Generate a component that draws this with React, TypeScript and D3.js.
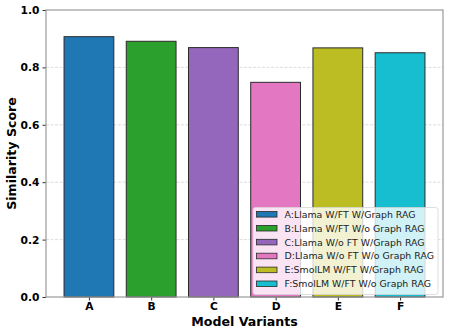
import React, { useEffect, useRef } from 'react';
import * as d3 from 'd3';

const categories = ['A', 'B', 'C', 'D', 'E', 'F'];
const scores = [0.907, 0.891, 0.869, 0.748, 0.868, 0.851];
const legendLabels = [
  'A:Llama W/FT W/Graph RAG',
  'B:Llama W/FT W/o Graph RAG',
  'C:Llama W/o FT W/Graph RAG',
  'D:Llama W/o FT W/o Graph RAG',
  'E:SmolLM W/FT W/Graph RAG',
  'F:SmolLM W/FT W/o Graph RAG',
];
const colors = ['#1f77b4', '#2ca02c', '#9467bd', '#e377c2', '#bcbd22', '#17becf'];
const yTicks = [0, 0.2, 0.4, 0.6, 0.8, 1.0];

const FONT = 'DejaVu Sans, sans-serif';

const App = () => {
  const svgRef = useRef<SVGSVGElement>(null);

  useEffect(() => {
    const width = 449;
    const height = 335;
    const margin = { top: 10, right: 6, bottom: 38, left: 46 };

    const svg = d3.select(svgRef.current).attr('width', width).attr('height', height);
    svg.selectAll('*').remove();

    const n = categories.length;
    const pad = 0.05 * (n - 1 + 0.8);
    const x = d3
      .scaleLinear()
      .domain([-0.4 - pad, n - 1 + 0.4 + pad])
      .range([margin.left, width - margin.right]);
    const y = d3.scaleLinear().domain([0, 1]).range([height - margin.bottom, margin.top]);
    const barW = x(0.8) - x(0);

    // grid
    svg
      .append('g')
      .selectAll('line')
      .data(yTicks.filter((t) => t > 0 && t < 1))
      .join('line')
      .attr('x1', margin.left)
      .attr('x2', width - margin.right)
      .attr('y1', (d) => y(d))
      .attr('y2', (d) => y(d))
      .attr('stroke', '#d4d4d4')
      .attr('stroke-width', 0.8)
      .attr('stroke-dasharray', '3,1.5');

    // bars
    svg
      .append('g')
      .selectAll('rect')
      .data(scores)
      .join('rect')
      .attr('x', (_, i) => x(i) - barW / 2)
      .attr('y', (d) => y(d))
      .attr('width', barW)
      .attr('height', (d) => y(0) - y(d))
      .attr('fill', (_, i) => colors[i])
      .attr('stroke', '#2a2a2a')
      .attr('stroke-width', 1);

    // axes
    const yAxis = d3
      .axisLeft(y)
      .tickValues(yTicks)
      .tickFormat(d3.format('.1f'))
      .tickSize(3.5)
      .tickPadding(3);
    const gy = svg.append('g').attr('transform', `translate(${margin.left},0)`).call(yAxis);
    gy.select('.domain').remove();
    gy.selectAll('line').attr('stroke', '#333');
    gy.selectAll('text')
      .attr('font-family', FONT)
      .attr('font-weight', 'bold')
      .attr('font-size', 10.7)
      .attr('fill', '#000');

    const xAxis = d3
      .axisBottom(x)
      .tickValues(d3.range(n))
      .tickFormat((d) => categories[d as number])
      .tickSize(3.5)
      .tickPadding(2);
    const gx = svg
      .append('g')
      .attr('transform', `translate(0,${height - margin.bottom})`)
      .call(xAxis);
    gx.select('.domain').remove();
    gx.selectAll('line').attr('stroke', '#333');
    gx.selectAll('text')
      .attr('font-family', FONT)
      .attr('font-weight', 'bold')
      .attr('font-size', 10.7)
      .attr('fill', '#000');

    // spines
    svg
      .append('rect')
      .attr('x', margin.left)
      .attr('y', margin.top)
      .attr('width', width - margin.left - margin.right)
      .attr('height', height - margin.top - margin.bottom)
      .attr('fill', 'none')
      .attr('stroke', '#999')
      .attr('stroke-width', 1.2);

    // axis labels
    svg
      .append('text')
      .attr('x', (margin.left + width - margin.right) / 2)
      .attr('y', 326)
      .attr('text-anchor', 'middle')
      .attr('font-family', FONT)
      .attr('font-weight', 'bold')
      .attr('font-size', 12.6)
      .text('Model Variants');

    svg
      .append('text')
      .attr('transform', `translate(15.5,${(margin.top + height - margin.bottom) / 2}) rotate(-90)`)
      .attr('text-anchor', 'middle')
      .attr('font-family', FONT)
      .attr('font-weight', 'bold')
      .attr('font-size', 12.6)
      .text('Similarity Score');

    // legend
    const lg = svg.append('g').attr('transform', 'translate(253,207.5)');
    lg.append('rect')
      .attr('width', 185)
      .attr('height', 87)
      .attr('rx', 2.5)
      .attr('fill', 'rgba(255,255,255,0.8)')
      .attr('stroke', '#d6d6d6')
      .attr('stroke-width', 0.8);
    const rows = lg
      .selectAll('g.row')
      .data(legendLabels)
      .join('g')
      .attr('class', 'row')
      .attr('transform', (_, i) => `translate(0,${6.8 + i * 13.9})`);
    rows
      .append('rect')
      .attr('x', 3.5)
      .attr('y', -2.8)
      .attr('width', 20.5)
      .attr('height', 5.6)
      .attr('fill', (_, i) => colors[i])
      .attr('stroke', '#2a2a2a')
      .attr('stroke-width', 0.8);
    rows
      .append('text')
      .attr('x', 31.5)
      .attr('y', 3.4)
      .attr('font-family', FONT)
      .attr('font-size', 9.4)
      .attr('fill', '#222')
      .text((d) => d);
  }, []);

  return (
    <div style={{ position: 'absolute', left: 0, top: 0 }}>
      <svg ref={svgRef}></svg>
    </div>
  );
};

export default App;
